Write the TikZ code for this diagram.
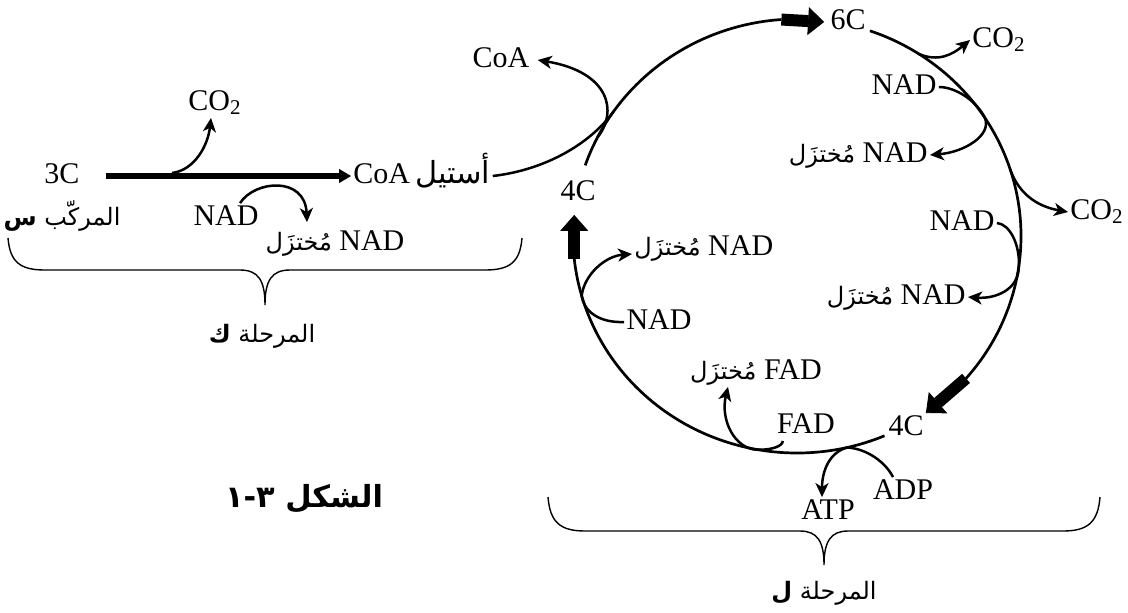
\documentclass[tikz,border=0pt]{standalone}
\usepackage{fontspec}
\setmainfont{Liberation Serif}
\newfontfamily\arabicfont[Script=Arabic,Scale=0.8]{DejaVu Sans}
\TeXXeTstate=1
\usetikzlibrary{arrows.meta}
\newcommand{\artxt}[1]{{\arabicfont\beginR #1\endR}}
\tikzset{
  lbl/.style  ={inner sep=1pt, font=\fontsize{15}{17}\selectfont,
                text height=10pt, text depth=2.5pt},
  cyc/.style  ={line width=1.35pt},
  side/.style ={line width=1.25pt, -{Stealth[length=7pt,width=6.5pt,inset=2pt]}},
  plain/.style={line width=1.25pt},
  fat/.style  ={line width=6pt, -{Triangle[length=8pt,width=14pt,line width=0.4pt]}},
  main/.style ={line width=3pt, -{Triangle[length=6pt,width=7pt,line width=0.4pt]}},
  brc/.style  ={line width=0.7pt},
}

\begin{document}
\begin{tikzpicture}[x=0.5pt, y=-0.5pt]
  \useasboundingbox (0,0) rectangle (1128,612);
  % link reaction
  \node[lbl] (c3) at (62,176) {3C};
  \node[lbl] (cmpd) at (62,218) {\artxt{المركّب \textbf{س}}};
  \node[lbl, anchor=west] (acetyl) at (351,176) {CoA\,{\fontsize{19}{20}\selectfont\artxt{أستيل}}};
  \node[lbl] (co2c) at (215,103) {CO\textsubscript{2}};
  \node[lbl] (nad4) at (226,218) {NAD};
  \node[lbl] (nadr4) at (335,243) {\artxt{مُختزَل} NAD};
  \draw[main] ([xshift=12pt]c3.east) -- (acetyl.west);
  \coordinate (b1) at (172,173);
  \draw[side] (b1) .. controls (195,170) and (208,145) .. ([xshift=-2pt]co2c.south);
  \draw[side] ([xshift=7pt]nad4.north) .. controls (255,180) and (305,176) .. ([xshift=-14pt,yshift=3pt]nadr4.north);
  \draw[brc] (8,238) .. controls (10,262) and (20,270) .. (45,270) -- (240,270)
    .. controls (258,270) and (265,280) .. (265,305) .. controls (265,280) and (272,270) .. (290,270)
    -- (485,270) .. controls (510,270) and (520,262) .. (522,238);
  \node[lbl] (stk) at (262,335) {\artxt{المرحلة \textbf{ك}}};
  \node[lbl, font=\fontsize{19}{21}\selectfont\bfseries] (fig) at (304,500) {\artxt{الشكل ٣-١}};

  % Krebs cycle
  \coordinate (O) at (797,236);
  \node[lbl] (c6) at (848,22) {6C};
  \node[lbl] (c4a) at (578,193) {4C};
  \node[lbl] (c4b) at (906,428) {4C};
  \draw[cyc] (O) ++(199:224 and 217) arc[start angle=199, end angle=266, x radius=224, y radius=217] coordinate (f1);
  \draw[fat] (f1) -- ([xshift=-2pt]c6.west);
  \draw[cyc] (O) ++(-71:224 and 217) arc[start angle=-71, end angle=41, x radius=224, y radius=217] coordinate (f2);
  \draw[fat] (f2) -- (c4b.north east);
  \draw[cyc] (O) ++(67:224 and 217) arc[start angle=67, end angle=174, x radius=224, y radius=217] coordinate (f3);
  \coordinate (u4) at ([yshift=-3.5pt]c4a.south);
  \draw[fat] (f3) -- (f3 |- u4);

  % side products
  \node[lbl] (coa) at (501,60) {CoA};
  \node[lbl] (co2a) at (999,40) {CO\textsubscript{2}};
  \node[lbl] (nad1) at (904,87) {NAD};
  \node[lbl, anchor=east] (nadr1) at (930,155) {\artxt{مُختزَل} NAD};
  \node[lbl] (co2b) at (1097,212) {CO\textsubscript{2}};
  \node[lbl] (nad2) at (962,223) {NAD};
  \node[lbl, anchor=east] (nadr2) at (968,297) {\artxt{مُختزَل} NAD};
  \node[lbl] (fad) at (806,426) {FAD};
  \node[lbl] (fadr) at (756,372) {\artxt{مُختزَل} FAD};
  \node[lbl] (adp) at (903,492) {ADP};
  \node[lbl] (atp) at (828,512) {ATP};
  \node[lbl] (nad3) at (659,322) {NAD};
  \node[lbl, anchor=west] (nadr3) at (632,248) {\artxt{مُختزَل} NAD};

  \path (O) ++(207:224 and 217) coordinate (j1);
  \path (O) ++(215:224 and 217) coordinate (j2);
  \draw[plain] (acetyl.east) .. controls (545,170) and (590,144) .. (j2);
  \draw[side] (j1) .. controls (618,112) and (610,72) .. ([xshift=3pt]coa.east);
  \path (O) ++(-57:224 and 217) coordinate (j3);
  \draw[side] (j3) .. controls (938,62) and (952,55) .. (co2a.west);
  \path (O) ++(-33:224 and 217) coordinate (j4);
  \draw[side] (nad1.east) .. controls (955,87) and (976,100) .. (j4) .. controls (992,135) and (965,152) .. (nadr1.east);
  \path (O) ++(-18:224 and 217) coordinate (j5);
  \draw[side] (j5) .. controls (1018,192) and (1035,206) .. (co2b.west);
  \path (O) ++(8:224 and 217) coordinate (j6);
  \draw[side] (nad2.east) .. controls (1010,224) and (1020,245) .. (j6) .. controls (1019,290) and (995,299) .. (nadr2.east);
  \path (O) ++(100:224 and 217) coordinate (j7);
  \draw[side] ([xshift=4pt]fad.south west) .. controls (783,446) and (772,450) .. (j7) .. controls (735,450) and (720,420) .. ([xshift=-14pt]fadr.south);
  \path (O) ++(77:224 and 217) coordinate (j8);
  \draw[side] ([xshift=-5pt]adp.north) .. controls (886,463) and (868,449) .. (j8) .. controls (830,452) and (822,470) .. ([xshift=-3pt]atp.north);
  \path (O) ++(164:224 and 217) coordinate (j9);
  \draw[side] (nad3.west) .. controls (600,323) and (584,312) .. (j9) .. controls (584,275) and (605,256) .. ([yshift=-3pt]nadr3.west);

  \draw[brc] (548,497) .. controls (550,522) and (560,531) .. (585,531) -- (800,531)
    .. controls (817,531) and (824,541) .. (824,565) .. controls (824,541) and (831,531) .. (848,531)
    -- (1063,531) .. controls (1088,531) and (1098,522) .. (1100,497);
  \node[lbl] (stl) at (824,592) {\artxt{المرحلة \textbf{ل}}};
\end{tikzpicture}
\end{document}
